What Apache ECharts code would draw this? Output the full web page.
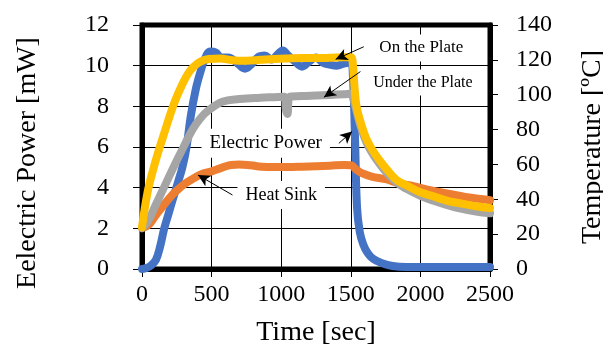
<!DOCTYPE html>
<html>
<head>
<meta charset="utf-8">
<script src="https://cdn.jsdelivr.net/npm/echarts@6/dist/echarts.min.js"></script>
<style>
  html, body { margin: 0; padding: 0; background: #fff; }
  #chart { width: 603px; height: 349px; }
</style>
</head>
<body>
<div id="chart"></div>
<script>
// Electric Power [mW] (left axis)
const powerTime = [0, 30, 60, 100, 130, 160, 190, 220, 260, 290, 320, 350, 385, 420, 450, 490, 530, 570, 620, 680, 740, 790, 840, 880, 930, 980, 1010, 1050, 1100, 1150, 1200, 1250, 1300, 1350, 1400, 1450, 1500, 1515, 1530, 1545, 1565, 1590, 1620, 1660, 1720, 1800, 1900, 2100, 2300, 2500];
const powerMw = [0, 0.05, 0.15, 0.45, 1.1, 2.0, 2.7, 3.4, 4.3, 5.0, 6.0, 7.5, 8.8, 9.7, 10.3, 10.7, 10.65, 10.4, 10.4, 10.15, 9.85, 10.1, 10.45, 10.5, 10.3, 10.6, 10.75, 10.5, 10.2, 9.95, 10.2, 10.4, 10.15, 10.05, 10.0, 10.1, 10.15, 9.5, 6.5, 3.0, 1.8, 1.2, 0.8, 0.5, 0.3, 0.15, 0.1, 0.1, 0.1, 0.1];

// On the Plate [°C] (right axis)
const plateTime = [0, 40, 80, 120, 160, 200, 240, 290, 330, 370, 420, 480, 560, 650, 750, 850, 950, 1050, 1150, 1250, 1350, 1450, 1500, 1515, 1528, 1542, 1575, 1610, 1650, 1700, 1760, 1830, 1900, 2000, 2100, 2200, 2300, 2400, 2500];
const plateTemp = [24, 44, 57, 68, 78, 88, 97, 106, 112, 116, 119, 120.5, 120.8, 119.8, 119.5, 120, 120.5, 120.8, 121, 121, 121.2, 121.5, 121.5, 117, 103, 93, 83, 75, 69, 63, 57, 51, 48, 44, 41.5, 39, 37.5, 36, 35];

// Under the Plate [°C] (right axis)
const underTime = [0, 40, 100, 171, 230, 292, 363, 420, 477, 577, 700, 850, 950, 1020, 1035, 1045, 1060, 1150, 1250, 1350, 1450, 1500, 1520, 1540, 1570, 1610, 1650, 1700, 1760, 1830, 1900, 2000, 2100, 2200, 2300, 2400, 2500];
const underTemp = [23.5, 27, 37, 49, 59, 69, 80, 86.5, 91, 96, 97.5, 98.3, 98.6, 98.8, 91, 89, 98.8, 99.2, 99.5, 99.8, 100.2, 100.5, 97, 91, 82, 73, 67, 61, 55, 49.5, 46, 42, 39, 36.5, 34.5, 33, 32];

// Heat Sink [°C] (right axis)
const sinkTime = [0, 50, 100, 150, 200, 250, 310, 370, 430, 500, 570, 640, 700, 780, 860, 950, 1050, 1150, 1250, 1350, 1450, 1500, 1540, 1580, 1650, 1750, 1850, 1950, 2050, 2150, 2250, 2350, 2450, 2500];
const sinkTemp = [23.5, 25.5, 31, 36, 41, 45, 49, 52, 54.5, 56, 58, 59.7, 60, 59.5, 58.7, 58.5, 58.5, 58.7, 59, 59.3, 59.7, 59.5, 57, 55, 53, 51.5, 49, 47.5, 45.5, 44, 42.5, 41, 40, 39.5];

// annotation texts and arrows, in [sec, mW] units
const noteText = ['On the Plate', 'Under the Plate', 'Electric Power', 'Heat Sink'];
const noteAt = [[2007, 10.87], [2018, 9.17], [889, 6.18], [1000, 3.64]];
const noteSize = [17, 16, 19, 18];
const arrowFrom = [[1593, 10.93], [1569, 9.71], [1414, 6.18], [650, 3.64]];
const arrowTo = [[1391, 10.31], [1307, 8.45], [1509, 6.76], [402, 4.62]];

const pairs = (xs, ys) => xs.map((x, i) => [x, ys[i]]);
const serif = 'Liberation Serif';

const chart = echarts.init(document.getElementById('chart'));

function lineSeries(name, data, color, axis, extra) {
  return Object.assign({
    name: name,
    type: 'line',
    yAxisIndex: axis,
    data: data,
    showSymbol: false,
    symbol: 'none',
    smooth: 0.4,
    lineStyle: { color: color, width: 8, cap: 'round', join: 'round' },
    silent: true
  }, extra || {});
}

const option = {
  animation: false,
  grid: {
    left: 142, right: 113, top: 25, bottom: 80,
    outerBoundsMode: 'none',
    show: true, borderColor: '#000', borderWidth: 5
  },
  xAxis: {
    type: 'value',
    min: 0, max: 2500, interval: 500,
    name: 'Time [sec]',
    nameLocation: 'middle',
    nameGap: 50,
    nameTextStyle: { fontFamily: serif, fontSize: 28, color: '#000' },
    axisLine: { show: true, lineStyle: { color: '#000', width: 5 } },
    axisTick: { show: true, length: 8, lineStyle: { color: '#000', width: 1 } },
    axisLabel: { fontFamily: serif, fontSize: 24, color: '#000', margin: 14, formatter: v => String(v) },
    splitLine: { show: true, lineStyle: { color: '#000', width: 1 } }
  },
  yAxis: [
    {
      type: 'value',
      min: 0, max: 12, interval: 2,
      name: 'Eelectric Power [mW]',
      nameLocation: 'middle',
      nameGap: 100,
      nameTextStyle: { fontFamily: serif, fontSize: 28, color: '#000', padding: [0, 32, 0, 0] },
      axisLine: { show: true, lineStyle: { color: '#000', width: 5 } },
      axisTick: { show: true, length: 9, lineStyle: { color: '#000', width: 1 } },
      axisLabel: { fontFamily: serif, fontSize: 24, color: '#000', margin: 33 },
      splitLine: { show: true, lineStyle: { color: '#000', width: 1 } }
    },
    {
      type: 'value',
      min: 0, max: 140, interval: 20,
      name: 'Temperature [ºC]',
      nameLocation: 'middle',
      nameGap: 89,
      nameRotate: 90,
      nameTextStyle: { fontFamily: serif, fontSize: 28, color: '#000' },
      axisLine: { show: true, lineStyle: { color: '#000', width: 5 } },
      axisTick: { show: true, length: 8, lineStyle: { color: '#000', width: 1 } },
      axisLabel: { fontFamily: serif, fontSize: 24, color: '#000', margin: 26 },
      splitLine: { show: false }
    }
  ],
  series: [
    lineSeries('Electric Power', pairs(powerTime, powerMw), '#4472C4', 0, {
      markLine: {
        silent: true,
        symbol: ['none', 'arrow'],
        symbolSize: [9, 12],
        label: { show: false },
        lineStyle: { color: '#000', width: 1, type: 'solid' },
        emphasis: { disabled: true },
        data: arrowFrom.map((p, i) => [{ coord: p }, { coord: arrowTo[i] }])
      },
      markPoint: {
        silent: true,
        symbol: 'rect',
        symbolSize: 1,
        itemStyle: { color: 'rgba(0,0,0,0)' },
        data: noteAt.map((p, i) => ({
          coord: p,
          label: {
            show: true,
            position: 'inside',
            formatter: noteText[i],
            fontFamily: serif,
            fontSize: noteSize[i],
            color: '#000',
            backgroundColor: '#fff',
            padding: [5, 8]
          }
        }))
      }
    }),
    lineSeries('Heat Sink', pairs(sinkTime, sinkTemp), '#ED7D31', 1),
    lineSeries('Under the Plate', pairs(underTime, underTemp), '#A5A5A5', 1),
    lineSeries('On the Plate', pairs(plateTime, plateTemp), '#FFC000', 1)
  ]
};

chart.setOption(option);
</script>
</body>
</html>
